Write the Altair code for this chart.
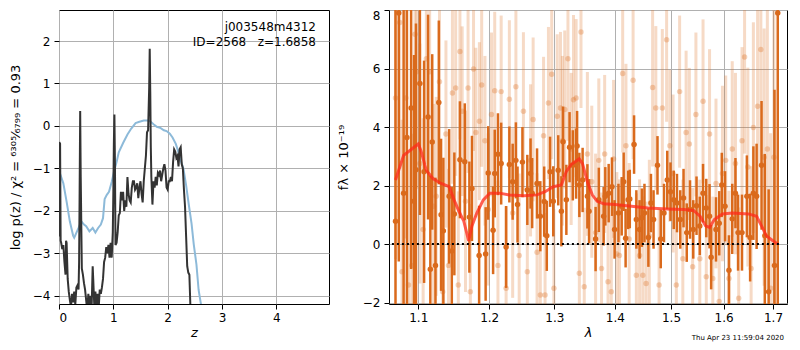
import altair as alt
import pandas as pd

# ---------------- left panel: log p(z) ----------------
z_chi = [0.00, 0.08, 0.14, 0.20, 0.26, 0.28, 0.36, 0.41, 0.46, 0.50, 0.56, 0.62, 0.67, 0.72, 0.77, 0.81,
         0.84, 0.88, 0.92, 0.97, 1.01, 1.06, 1.10, 1.18, 1.26, 1.33, 1.41, 1.48, 1.56, 1.63, 1.68, 1.74,
         1.80, 1.86, 1.93, 1.98, 2.04, 2.09, 2.15, 2.20, 2.25, 2.29, 2.34, 2.39, 2.44, 2.48, 2.53, 2.57,
         2.62, 2.66]
v_chi = [-1.05, -1.35, -1.78, -2.25, -2.58, -2.63, -2.40, -2.24, -2.32, -2.36, -2.48, -2.40, -2.51,
         -2.40, -2.32, -2.17, -1.72, -1.62, -1.55, -1.32, -1.09, -0.85, -0.62, -0.40, -0.20, -0.06,
         0.07, 0.10, 0.13, 0.13, 0.11, 0.04, -0.02, -0.04, -0.10, -0.12, -0.18, -0.27, -0.42, -0.62,
         -0.85, -1.00, -1.40, -1.86, -2.30, -2.78, -3.26, -3.86, -4.25, -4.70]

z_pz = [0.000, 0.005, 0.02, 0.03, 0.04, 0.06, 0.08, 0.10, 0.12, 0.13, 0.14, 0.16, 0.18, 0.20, 0.22, 0.24,
        0.26, 0.28, 0.30, 0.32, 0.34, 0.36, 0.37, 0.38, 0.39, 0.40, 0.42, 0.44, 0.46, 0.48, 0.50, 0.52,
        0.54, 0.56, 0.58, 0.60, 0.61, 0.62, 0.63, 0.65, 0.67, 0.69, 0.71, 0.73, 0.75, 0.77, 0.79, 0.81,
        0.83, 0.85, 0.87, 0.89, 0.91, 0.93, 0.95, 0.97, 0.99, 1.00, 1.01, 1.02, 1.03, 1.04, 1.06, 1.08,
        1.10, 1.12, 1.14, 1.16, 1.18, 1.20, 1.22, 1.24, 1.26, 1.28, 1.30, 1.32, 1.34, 1.36, 1.38, 1.40,
        1.42, 1.44, 1.46, 1.48, 1.50, 1.52, 1.54, 1.56, 1.58, 1.60, 1.62, 1.64, 1.66, 1.67, 1.68, 1.69,
        1.70, 1.72, 1.74, 1.76, 1.78, 1.80, 1.82, 1.84, 1.86, 1.88, 1.90, 1.92, 1.94, 1.96, 1.98, 2.00,
        2.02, 2.04, 2.06, 2.08, 2.10, 2.12, 2.14, 2.16, 2.18, 2.20, 2.22, 2.24, 2.26, 2.28, 2.30, 2.32,
        2.34, 2.36, 2.38, 2.40, 2.42, 2.44]
v_pz = [-2.60, -0.38, -0.42, -2.70, -2.75, -2.90, -2.80, -3.20, -3.50, -2.70, -2.75, -3.60, -3.90, -4.10,
        -4.25, -3.95, -4.15, -3.90, -4.20, -3.80, -3.75, -3.85, -3.20, -1.50, 0.35, -1.20, -3.35, -3.50,
        -3.70, -3.85, -4.10, -4.35, -3.95, -4.30, -4.00, -4.30, -3.80, -3.30, -3.60, -4.25, -3.90, -4.30,
        -3.95, -4.30, -3.85, -3.95, -3.80, -3.60, -3.20, -3.10, -2.85, -3.00, -2.80, -3.10, -2.75, -3.10,
        -2.50, -1.60, -0.40, 0.27, -0.90, -2.80, -2.75, -2.50, -2.10, -2.05, -1.55, -1.75, -1.55, -2.00,
        -1.75, -1.90, -1.20, -1.60, -1.75, -1.80, -1.45, -1.30, -1.30, -1.50, -1.45, -1.35, -1.70, -1.45,
        -1.30, -1.60, -1.80, -1.30, -1.00, -0.70, -0.15, -0.10, 0.90, 1.82, 0.80, -0.50, -1.20, -1.85,
        -1.30, -1.45, -1.20, -1.40, -1.10, -1.15, -1.05, -1.30, -1.15, -1.00, -0.90, -1.05, -1.45, -1.50,
        -1.30, -1.30, -1.20, -1.30, -0.85, -0.55, -0.60, -0.75, -0.70, -0.95, -0.55, -0.50, -0.90, -1.00,
        -1.50, -1.90, -2.60, -3.30, -3.45, -3.50, -4.30, -4.60]

z_ticks = [0, 1, 2, 3, 4]
pz_ticks = [-4, -3, -2, -1, 0, 1, 2]

# ---------------- right panel: spectrum ----------------
dark_wave = [1.0697, 1.0740, 1.0804, 1.0848, 1.0904, 1.0943, 1.0969, 1.1022, 1.1079, 1.1133, 1.1164, 1.1190,
             1.1235, 1.1281, 1.1312, 1.1344, 1.1425, 1.1462, 1.1498, 1.1577, 1.1646, 1.1712, 1.1749, 1.1853,
             1.1948, 1.1986, 1.2058, 1.2082, 1.2130, 1.2178, 1.2252, 1.2301, 1.2351, 1.2400, 1.2425, 1.2500,
             1.2575, 1.2625, 1.2650, 1.2726, 1.2777, 1.2838, 1.2879, 1.2931, 1.2982, 1.3061, 1.3112, 1.3139,
             1.3192, 1.3244, 1.3297, 1.3351, 1.3367, 1.3404, 1.3458, 1.3537, 1.3565, 1.3674, 1.3728, 1.3810,
             1.3838, 1.3895, 1.3951, 1.3996, 1.4063, 1.4119, 1.4153, 1.4187, 1.4232, 1.4260, 1.4335, 1.4375,
             1.4432, 1.4473, 1.4519, 1.4589, 1.4635, 1.4682, 1.4753, 1.4812, 1.4871, 1.4931, 1.4990, 1.5050,
             1.5110, 1.5171, 1.5232, 1.5292, 1.5354, 1.5415, 1.5477, 1.5539, 1.5601, 1.5663, 1.5726, 1.5757,
             1.5851, 1.5914, 1.5964, 1.6028, 1.6105, 1.6170, 1.6234, 1.6286, 1.6365, 1.6463, 1.6529, 1.6595,
             1.6661, 1.6762, 1.6829, 1.6909, 1.7031, 1.7099]
dark_flux = [0.78, 7.90, 1.74, 3.64, 4.65, 1.46, 2.54, 5.49, 2.47, 4.34, -0.86, 3.49,
             -0.73, 4.84, 1.00, 0.45, 1.63, -0.24, 1.03, 2.88, 2.81, 0.92, 1.90, -0.39,
             -0.34, 2.43, 0.47, 2.41, 3.07, 2.75, -0.10, 2.72, 2.13, 2.86, 1.35, 2.80,
             1.85, 2.41, 1.74, 2.07, 0.95, 1.45, 0.28, 2.47, 1.46, 2.52, 1.12, 3.50,
             1.51, 3.31, 2.69, 2.75, 3.35, 2.02, 2.19, 1.63, 1.12, 0.17, 1.51, 0.95,
             1.63, 1.74, 1.96, 0.50, 1.06, 1.29, 2.13, 0.20, 1.51, 1.54, 3.40, 0.84,
             0.50, 0.90, 1.06, 0.22, 1.40, 0.84, 2.69, 0.17, 1.06, 2.19, 1.79, 1.51,
             1.40, 0.84, 1.57, 0.39, 1.18, 0.50, 1.31, 0.62, 1.74, 1.23, 0.95, -0.45,
             0.50, 0.71, 2.02, 1.29, -0.90, 0.86, 1.74, 0.39, 0.39, 1.63, 0.22, 1.74,
             1.63, 2.69, 0.28, -1.63, -0.73, 7.90]
dark_err = [9.0, 8.5, 6.5, 6.0, 5.5, 5.0, 5.0, 4.5, 3.8, 3.5, 3.2, 3.0,
            3.0, 2.8, 2.6, 2.5, 2.3, 2.2, 2.1, 2.0, 2.0, 1.9, 1.8, 1.7,
            1.6, 1.6, 1.5, 1.5, 1.4, 1.4, 1.4, 1.3, 1.3, 1.3, 1.3, 1.2,
            1.2, 1.2, 1.2, 1.2, 1.2, 1.2, 1.2, 1.2, 1.2, 1.2, 1.2, 1.2,
            1.2, 1.2, 1.2, 1.2, 1.2, 1.1, 1.1, 1.1, 1.1, 1.1, 1.1, 1.0,
            1.0, 1.0, 1.0, 1.0, 1.0, 1.0, 1.0, 1.0, 1.0, 1.0, 1.0, 1.0,
            1.0, 1.0, 1.0, 1.0, 1.0, 1.0, 1.0, 1.0, 1.0, 1.0, 1.0, 1.0,
            1.0, 1.0, 1.0, 1.0, 1.0, 1.0, 1.0, 1.0, 1.0, 1.0, 1.1, 1.1,
            1.1, 1.1, 1.1, 1.2, 1.2, 1.2, 1.2, 1.3, 1.3, 1.4, 1.5, 1.6,
            1.8, 2.2, 2.8, 3.5, 6.0, 10.0]

light_wave = [1.0697, 1.0753, 1.0783, 1.0834, 1.0869, 1.0913, 1.0956, 1.0978, 1.1022, 1.1066, 1.1110, 1.1155,
              1.1209, 1.1245, 1.1290, 1.1335, 1.1380, 1.1416, 1.1471, 1.1517, 1.1554, 1.1577, 1.1609, 1.1656,
              1.1693, 1.1726, 1.1772, 1.1805, 1.1857, 1.1890, 1.1938, 1.1986, 1.2034, 1.2082, 1.2130, 1.2178,
              1.2252, 1.2301, 1.2351, 1.2400, 1.2450, 1.2515, 1.2575, 1.2625, 1.2665, 1.2726, 1.2777, 1.2828,
              1.2852, 1.2905, 1.2957, 1.2992, 1.3045, 1.3097, 1.3128, 1.3166, 1.3218, 1.3270, 1.3308, 1.3351,
              1.3404, 1.3431, 1.3485, 1.3537, 1.3610, 1.3674, 1.3728, 1.3774, 1.3827, 1.3884, 1.3940, 1.3979,
              1.4035, 1.4080, 1.4136, 1.4193, 1.4249, 1.4318, 1.4375, 1.4432, 1.4490, 1.4548, 1.4606, 1.4665,
              1.4723, 1.4782, 1.4841, 1.4919, 1.4978, 1.5038, 1.5098, 1.5159, 1.5219, 1.5280, 1.5341, 1.5403,
              1.5465, 1.5539, 1.5601, 1.5663, 1.5726, 1.5789, 1.5851, 1.5914, 1.5977, 1.6041, 1.6105, 1.6170,
              1.6234, 1.6299, 1.6365, 1.6417, 1.6483, 1.6549, 1.6595, 1.6681, 1.6748, 1.6815, 1.6882, 1.6950,
              1.7018]
light_flux = [4.99, 7.57, -0.95, 4.99, -1.40, -0.73, 7.17, 5.89, 2.75, 0.50, 6.33, 5.89,
              1.29, 1.63, 5.55, -1.63, 3.76, -0.73, 5.16, 5.33, -1.40, 6.58, 4.54, 1.46,
              5.33, -1.63, 5.98, 3.81, 4.20, 5.44, 3.53, 1.18, 4.43, 5.24, -0.73, 5.21,
              -1.51, 4.95, 1.06, 5.38, -0.39, 4.54, -0.95, 2.86, 4.26, -0.28, -1.74, 3.70,
              -1.74, 4.82, 5.80, -1.51, 4.37, 4.65, 3.53, 4.60, 6.33, 3.25, 4.93, 4.99,
              -1.00, 7.25, -1.46, 3.08, 2.13, 0.39, 2.86, -0.84, 3.08, -1.29, -1.63, 2.91,
              -0.34, -0.39, 5.83, 3.36, 0.17, 5.60, -1.07, -0.39, -1.07, -1.35, 0.28, 5.35,
              4.65, -1.40, 4.65, 6.98, 3.36, 2.41, -1.40, 5.21, -0.50, 3.81, 3.42, -0.78,
              4.43, -0.50, 4.88, -1.12, 3.76, -1.18, 2.07, -1.96, 2.41, 2.86, -1.18, 3.25,
              2.75, -1.85, 3.53, 6.39, 2.63, -0.84, 3.98, 4.71, 6.65, 2.97, 3.25, -1.51,
              2.97]
light_err = [5.5, 5.0, 5.2, 4.8, 4.6, 4.5, 4.2, 4.0, 4.1, 3.8, 3.6, 3.7,
             3.5, 3.4, 3.3, 3.4, 3.2, 3.3, 3.1, 3.0, 3.2, 3.0, 2.9, 3.1,
             2.9, 3.0, 2.8, 2.9, 2.7, 2.8, 2.9, 2.6, 2.8, 2.7, 2.9, 2.6,
             2.8, 2.7, 2.9, 2.6, 2.8, 2.7, 2.9, 2.6, 2.8, 2.7, 2.9, 2.7,
             2.8, 2.6, 2.9, 2.7, 2.8, 2.6, 2.9, 2.7, 2.8, 2.6, 2.9, 2.7,
             2.8, 2.6, 2.7, 2.8, 2.6, 2.7, 2.8, 2.6, 2.7, 2.8, 2.6, 2.7,
             2.8, 2.6, 2.7, 2.8, 2.6, 2.7, 2.8, 2.6, 2.7, 2.8, 2.6, 2.7,
             2.8, 2.6, 2.7, 2.8, 2.6, 2.7, 2.8, 2.6, 2.7, 2.8, 2.6, 2.7,
             2.8, 2.7, 2.8, 2.8, 2.9, 2.8, 2.9, 2.9, 3.0, 2.9, 3.0, 3.0,
             3.1, 3.1, 3.2, 3.3, 3.4, 3.5, 3.6, 3.8, 4.0, 4.4, 4.8, 5.3,
             6.0]

model_wave = [1.0697, 1.0804, 1.0913, 1.1000, 1.1035, 1.1110, 1.1199, 1.1312, 1.1425, 1.1494, 1.1563, 1.1632,
              1.1702, 1.1749, 1.1819, 1.1914, 1.2010, 1.2154, 1.2301, 1.2523, 1.2725, 1.2852, 1.2981, 1.3112,
              1.3190, 1.3270, 1.3402, 1.3456, 1.3537, 1.3618, 1.3700, 1.3810, 1.4004, 1.4289, 1.4580, 1.4932,
              1.5235, 1.5419, 1.5544, 1.5650, 1.5725, 1.5820, 1.5977, 1.6170, 1.6496, 1.6661, 1.6762, 1.6862,
              1.6997, 1.7099]
model_flux = [2.19, 3.03, 3.25, 3.42, 3.20, 2.52, 2.24, 2.07, 1.96, 1.51, 1.12, 0.78,
              0.11, 0.62, 1.06, 1.51, 1.74, 1.74, 1.68, 1.65, 1.68, 1.79, 1.96, 2.02,
              2.47, 2.72, 2.91, 2.75, 2.13, 1.68, 1.46, 1.38, 1.35, 1.29, 1.23, 1.20,
              1.18, 1.15, 0.95, 0.62, 0.57, 0.84, 1.03, 1.06, 1.03, 0.95, 0.62, 0.28,
              0.11, 0.00]

wave_ticks = [1.1, 1.2, 1.3, 1.4, 1.5, 1.6, 1.7]
flux_ticks = [-2, 0, 2, 4, 6, 8]

ORANGE = "#da6a1c"
FONT = "DejaVu Sans"
NB = "\u00a0"

# ---------------- left chart ----------------
chi_df = pd.DataFrame({"z": z_chi, "v": v_chi})
pz_df = pd.DataFrame({"z": z_pz, "v": v_pz})

xz = alt.X("z:Q", scale=alt.Scale(domain=[0, 4.97], nice=False, zero=False),
           axis=alt.Axis(values=z_ticks, format="d", title="z", titleFontStyle="italic"))
yz = alt.Y("v:Q", scale=alt.Scale(domain=[-4.19, 2.73], nice=False, zero=False),
           axis=alt.Axis(values=pz_ticks, format="d",
                         title="log p(z) / χ² = ⁶³⁰⁵⁄₆₇₉₉ = 0.93", titlePadding=10))

chi_line = alt.Chart(chi_df).mark_line(color="#8dbad9", strokeWidth=2, clip=True).encode(x=xz, y=yz)
pz_line = alt.Chart(pz_df).mark_line(color="#333333", strokeWidth=2, clip=True).encode(x=xz, y=yz)

name_txt = alt.Chart(pd.DataFrame({"t": ["j003548m4312"]})).mark_text(
    align="right", baseline="middle", fontSize=12, font=FONT, color="black"
).encode(x=alt.value(257), y=alt.value(17), text="t:N")
id_txt = alt.Chart(pd.DataFrame({"t": ["ID=2568" + NB * 3 + "z=1.6858"]})).mark_text(
    align="right", baseline="middle", fontSize=12, font=FONT, color="black"
).encode(x=alt.value(257), y=alt.value(32), text="t:N")

left = alt.layer(chi_line, pz_line, name_txt, id_txt).properties(width=270, height=294)

# ---------------- right chart ----------------
dark_df = pd.DataFrame({"w": dark_wave, "f": dark_flux, "e": dark_err})
dark_df["lo"] = dark_df["f"] - dark_df["e"]
dark_df["hi"] = dark_df["f"] + dark_df["e"]
light_df = pd.DataFrame({"w": light_wave, "f": light_flux, "e": light_err})
light_df["lo"] = light_df["f"] - light_df["e"]
light_df["hi"] = light_df["f"] + light_df["e"]
model_df = pd.DataFrame({"w": model_wave, "f": model_flux})

wscale = alt.Scale(type="log", domain=[1.0612, 1.7294], nice=False, zero=False)
fscale = alt.Scale(domain=[-2.05, 8], nice=False, zero=False)
xw = alt.X("w:Q", scale=wscale, axis=alt.Axis(values=wave_ticks, format=".1f", title="λ",
                                              titleFontStyle="italic"))
yaxis = alt.Axis(values=flux_ticks, format="d", title="fλ × 10⁻¹⁹", labelFlush=True, titlePadding=12)

light_bars = alt.Chart(light_df).mark_rule(color=ORANGE, opacity=0.25, strokeWidth=3, clip=True).encode(
    x=xw, y=alt.Y("lo:Q", scale=fscale, axis=yaxis), y2="hi:Q")
light_pts = alt.Chart(light_df).mark_circle(color=ORANGE, opacity=0.3, size=30, clip=True).encode(
    x=xw, y=alt.Y("f:Q", scale=fscale, axis=yaxis))
dark_bars = alt.Chart(dark_df).mark_rule(color=ORANGE, opacity=1, strokeWidth=2.5, clip=True).encode(
    x=xw, y=alt.Y("lo:Q", scale=fscale, axis=yaxis), y2="hi:Q")
dark_pts = alt.Chart(dark_df).mark_circle(color=ORANGE, opacity=1, size=30, clip=True).encode(
    x=xw, y=alt.Y("f:Q", scale=fscale, axis=yaxis))
model_line = alt.Chart(model_df).mark_line(color="#ff2a1a", opacity=0.75, strokeWidth=3, clip=True).encode(
    x=xw, y=alt.Y("f:Q", scale=fscale, axis=yaxis))
zero_line = alt.Chart(pd.DataFrame({"a": [0]})).mark_rule(
    color="black", strokeWidth=2, strokeDash=[2, 3]
).encode(x=alt.datum(1.065), x2=alt.datum(1.715), y=alt.datum(0))
stamp = alt.Chart(pd.DataFrame({"t": ["Thu Apr 23 11:59:04 2020"]})).mark_text(
    align="right", baseline="middle", fontSize=7, font=FONT, color="black"
).encode(x=alt.value(395), y=alt.value(328), text="t:N")

right = alt.layer(light_bars, light_pts, dark_bars, dark_pts, model_line, zero_line, stamp).properties(
    width=398, height=294)

chart = alt.hconcat(left, right, spacing=60, bounds="flush").properties(
    padding={"left": 0, "top": 0, "right": 0, "bottom": 0}
).configure(background="white").configure_axis(
    labelFont=FONT, titleFont=FONT, labelFontSize=12, titleFontSize=13, titleFontWeight="normal",
    labelColor="black", titleColor="black", tickColor="black", tickSize=5, tickWidth=1,
    labelPadding=4, domain=False, grid=True, gridColor="#b0b0b0", gridWidth=1
).configure_axisX(titlePadding=3, labelPadding=3).configure_view(stroke="black", strokeWidth=1)

chart.save("out.html", embed_options={"renderer": "svg", "actions": False})
